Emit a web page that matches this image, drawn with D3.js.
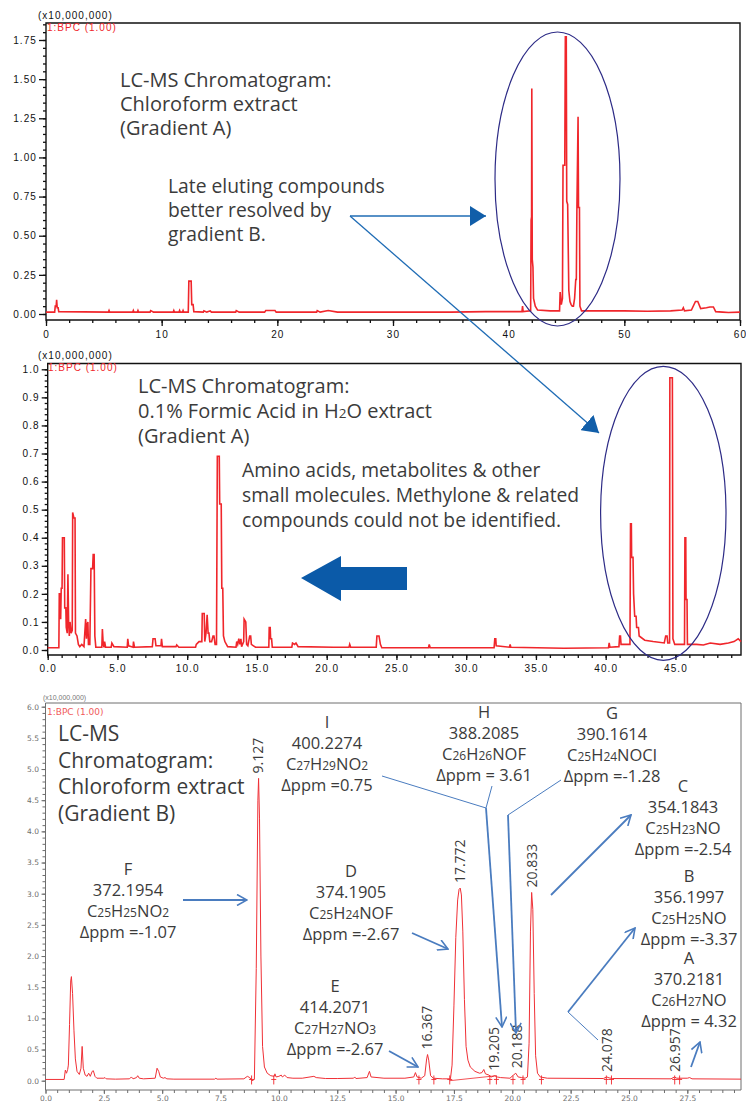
<!DOCTYPE html>
<html>
<head>
<meta charset="utf-8">
<script src="https://cdn.jsdelivr.net/npm/d3@7"></script>
<style>
  body { margin: 0; background: #fff; }
  svg text { font-family: "Open Sans", "Noto Sans", sans-serif; }
</style>
</head>
<body>
<svg id="chart" width="746" height="1102"></svg>
<script>
// Chloroform extract, gradient A: [time (min), intensity (x10,000,000)]
let traceChloroA = [
  [0, 0.012], [0.75, 0.012], [0.8, 0.05], [0.88, 0.05], [0.92, 0.09], [0.97, 0.04], [1.05, 0.04], [1.1, 0.015],
  [5.4, 0.012], [5.45, 0.022], [5.5, 0.012], [7.5, 0.012], [7.55, 0.022], [7.6, 0.012], [7.9, 0.012], [7.95, 0.022],
  [8.0, 0.012], [9.0, 0.012], [9.05, 0.022], [9.3, 0.012], [11.0, 0.012], [11.05, 0.022], [11.1, 0.012],
  [11.5, 0.012], [11.55, 0.022], [11.6, 0.012], [11.8, 0.012], [11.85, 0.022], [11.9, 0.012],
  [12.3, 0.012], [12.35, 0.21], [12.55, 0.21], [12.6, 0.06], [12.72, 0.06], [12.78, 0.015],
  [13.6, 0.012], [13.65, 0.02], [13.9, 0.012], [14.2, 0.02], [14.3, 0.012], [16.4, 0.012], [16.45, 0.022],
  [16.7, 0.012], [18.9, 0.012], [19.0, 0.022], [19.8, 0.022], [19.9, 0.012], [23.4, 0.012], [23.45, 0.022],
  [23.7, 0.012], [24.4, 0.022], [25.2, 0.012], [29, 0.012], [35, 0.012], [38, 0.015],
  [41.15, 0.015], [41.2, 0.05], [41.25, 0.015], [41.9, 0.02], [41.94, 0.6], [41.98, 0.62], [42.0, 1.44],
  [42.04, 0.35], [42.1, 0.3], [42.15, 0.1], [42.3, 0.05], [42.5, 0.025], [43.6, 0.02], [44.4, 0.02],
  [44.45, 0.14], [44.55, 0.06], [44.65, 0.1], [44.7, 0.95], [44.85, 0.95], [44.9, 1.77], [44.98, 1.77],
  [45.02, 0.72], [45.1, 0.7], [45.2, 0.15], [45.3, 0.08], [45.4, 0.06], [45.5, 0.05], [45.6, 0.05],
  [45.7, 0.1], [45.8, 0.22], [45.85, 0.22], [45.9, 0.68], [46.0, 1.26], [46.04, 0.68], [46.12, 0.68],
  [46.16, 0.05], [46.3, 0.02], [50, 0.02], [52, 0.018], [54, 0.02], [55, 0.025], [55.1, 0.04], [55.2, 0.02],
  [55.8, 0.025], [56.15, 0.08], [56.35, 0.08], [56.6, 0.035], [57.1, 0.04], [57.4, 0.045], [57.7, 0.045],
  [57.9, 0.015], [58.5, 0.012], [59, 0.01], [60, 0.012]
];

// 0.1% formic acid in water extract, gradient A
let traceFormicA = [
  [0, 0.008], [0.8, 0.008], [0.83, 0.2], [0.9, 0.2], [0.93, 0.11], [0.97, 0.22], [1.03, 0.22], [1.06, 0.4],
  [1.19, 0.4], [1.22, 0.15], [1.3, 0.15], [1.33, 0.08], [1.4, 0.06], [1.45, 0.27], [1.5, 0.1], [1.55, 0.05],
  [1.6, 0.1], [1.68, 0.06], [1.76, 0.07], [1.79, 0.49], [1.88, 0.47], [1.96, 0.47], [1.99, 0.06], [2.1, 0.05],
  [2.2, 0.02], [2.3, 0.012], [2.44, 0.02], [2.6, 0.012], [2.72, 0.11], [2.78, 0.04], [2.83, 0.09], [2.88, 0.1],
  [2.92, 0.02], [3.02, 0.02], [3.1, 0.29], [3.22, 0.29], [3.26, 0.34], [3.33, 0.34], [3.38, 0.05], [3.45, 0.01],
  [3.88, 0.01], [3.92, 0.075], [3.98, 0.02], [4.04, 0.01], [4.08, 0.03], [4.15, 0.01], [4.55, 0.01], [4.6, 0.025],
  [4.75, 0.012], [5.7, 0.01], [5.74, 0.04], [5.8, 0.015], [6.12, 0.01], [6.15, 0.03], [6.22, 0.01],
  [7.5, 0.012], [7.55, 0.04], [7.7, 0.04], [7.76, 0.015], [8.12, 0.015], [8.16, 0.04], [8.22, 0.012],
  [9.2, 0.012], [9.25, 0.018], [9.4, 0.01], [10.6, 0.01], [10.65, 0.02], [10.85, 0.03], [11.05, 0.03],
  [11.08, 0.13], [11.22, 0.13], [11.26, 0.03], [11.35, 0.06], [11.43, 0.125], [11.5, 0.06], [11.56, 0.06],
  [11.62, 0.03], [11.75, 0.03], [11.85, 0.05], [11.92, 0.05], [12.0, 0.02], [12.1, 0.02], [12.16, 0.69],
  [12.3, 0.69], [12.33, 0.52], [12.44, 0.52], [12.48, 0.22], [12.55, 0.22], [12.6, 0.05], [12.7, 0.03],
  [12.9, 0.012], [13.5, 0.01], [13.55, 0.03], [13.62, 0.02], [13.7, 0.04], [13.78, 0.02], [13.85, 0.04],
  [13.9, 0.012], [14.05, 0.03], [14.08, 0.11], [14.2, 0.1], [14.26, 0.02], [14.35, 0.015], [14.48, 0.05],
  [14.55, 0.05], [14.6, 0.02], [14.75, 0.015], [14.9, 0.01], [15.85, 0.01], [15.88, 0.08], [15.95, 0.08],
  [15.98, 0.04], [16.05, 0.04], [16.1, 0.01], [17.5, 0.01], [17.55, 0.025], [17.7, 0.02], [17.8, 0.025],
  [17.95, 0.012], [20.5, 0.01], [21.6, 0.01], [21.65, 0.02], [21.72, 0.01], [23.55, 0.01], [23.6, 0.05],
  [23.75, 0.05], [23.85, 0.02], [23.95, 0.008], [27.3, 0.008], [27.35, 0.02], [27.42, 0.008], [32.0, 0.008],
  [32.05, 0.04], [32.12, 0.04], [32.15, 0.015], [33.1, 0.01], [33.15, 0.02], [33.2, 0.01], [37, 0.006],
  [40.2, 0.008], [40.25, 0.025], [40.3, 0.01], [40.95, 0.012], [41.0, 0.05], [41.06, 0.05], [41.1, 0.02],
  [41.74, 0.02], [41.78, 0.45], [41.84, 0.45], [41.86, 0.33], [41.96, 0.33], [42.0, 0.2], [42.08, 0.12],
  [42.18, 0.12], [42.22, 0.08], [42.35, 0.08], [42.4, 0.05], [42.8, 0.035], [43.4, 0.03], [44.2, 0.025],
  [44.3, 0.05], [44.4, 0.05], [44.45, 0.025], [44.58, 0.025], [44.6, 0.97], [44.78, 0.97], [44.82, 0.04],
  [44.95, 0.02], [45.65, 0.02], [45.68, 0.4], [45.74, 0.4], [45.76, 0.18], [45.83, 0.18], [45.86, 0.02],
  [46.5, 0.02], [47, 0.018], [47.5, 0.025], [48.2, 0.02], [48.8, 0.025], [49.2, 0.03], [49.5, 0.04], [49.7, 0.03]
];

// Chloroform extract, gradient B
let traceChloroB = [
  [0, 0.02], [0.8, 0.02], [0.85, 0.17], [0.9, 0.12], [0.95, 0.18], [0.98, 0.25], [1.03, 0.9], [1.08, 1.6],
  [1.11, 1.67], [1.16, 1.4], [1.22, 0.8], [1.28, 0.35], [1.35, 0.15], [1.45, 0.1], [1.52, 0.2], [1.57, 0.55],
  [1.62, 0.2], [1.7, 0.09], [1.78, 0.07], [1.85, 0.12], [1.92, 0.07], [2.0, 0.15], [2.05, 0.16], [2.12, 0.07],
  [2.2, 0.04], [2.5, 0.04], [2.55, 0.05], [2.6, 0.03], [3.0, 0.025], [3.6, 0.03], [3.68, 0.06], [3.75, 0.03],
  [3.9, 0.05], [3.95, 0.08], [4.02, 0.04], [4.2, 0.03], [4.7, 0.04], [4.78, 0.2], [4.85, 0.15], [4.92, 0.06],
  [5.05, 0.04], [5.12, 0.05], [5.2, 0.03], [5.5, 0.025], [7.25, 0.025], [7.3, 0.04], [7.35, 0.025],
  [8.5, 0.03], [8.65, 0.07], [8.75, 0.05], [8.85, 0.0], [8.95, 0.02], [9.03, 1.8], [9.1, 4.5], [9.13, 4.85],
  [9.17, 4.2], [9.23, 2.0], [9.3, 0.55], [9.38, 0.22], [9.5, 0.12], [9.65, 0.08], [9.8, 0.07], [9.83, 0.11],
  [9.88, 0.06], [10.0, 0.07], [10.1, 0.09], [10.15, 0.06], [10.25, 0.09], [10.35, 0.05], [10.6, 0.04],
  [11.0, 0.04], [11.5, 0.07], [11.6, 0.05], [12.0, 0.035], [12.5, 0.035], [13.2, 0.04], [13.25, 0.06],
  [13.3, 0.035], [13.78, 0.05], [13.88, 0.15], [13.95, 0.06], [14.5, 0.04], [15.4, 0.04], [15.78, 0.06],
  [15.85, 0.13], [15.92, 0.06], [16.1, 0.04], [16.25, 0.08], [16.33, 0.35], [16.37, 0.42], [16.42, 0.33],
  [16.5, 0.08], [16.62, 0.04], [17.0, 0.03], [17.35, 0.03], [17.42, 0.25], [17.5, 1.2], [17.58, 2.3],
  [17.66, 2.9], [17.72, 3.07], [17.77, 3.09], [17.82, 2.98], [17.88, 2.4], [17.95, 1.3], [18.02, 0.55],
  [18.1, 0.33], [18.2, 0.22], [18.4, 0.15], [18.6, 0.12], [18.7, 0.13], [18.78, 0.18], [18.85, 0.11],
  [19.0, 0.09], [19.1, 0.06], [19.25, 0.08], [19.35, 0.06], [19.5, 0.05], [19.9, 0.04], [20.05, 0.09],
  [20.15, 0.12], [20.25, 0.06], [20.4, 0.05], [20.55, 0.04], [20.65, 0.06], [20.72, 0.6], [20.78, 2.4],
  [20.83, 3.02], [20.88, 2.75], [20.94, 1.4], [21.0, 0.4], [21.08, 0.12], [21.2, 0.06], [21.5, 0.04],
  [23.9, 0.035], [24.05, 0.06], [24.15, 0.045], [24.3, 0.035], [26.8, 0.03], [26.95, 0.06], [27.05, 0.04],
  [27.5, 0.04], [27.6, 0.05], [27.7, 0.03], [29.8, 0.025]
];

// tick labels
let xTicksChloroA = [0, 10, 20, 30, 40, 50, 60];
let yTicksChloroA = [0, 0.25, 0.5, 0.75, 1.0, 1.25, 1.5, 1.75];
let xTicksFormicA = [0, 5, 10, 15, 20, 25, 30, 35, 40, 45];
let yTicksFormicA = [0, 0.1, 0.2, 0.3, 0.4, 0.5, 0.6, 0.7, 0.8, 0.9, 1.0];
let xTicksChloroB = [0, 2.5, 5, 7.5, 10, 12.5, 15, 17.5, 20, 22.5, 25, 27.5];
let yTicksChloroB = [0, 0.5, 1, 1.5, 2, 2.5, 3, 3.5, 4, 4.5, 5, 5.5, 6];

// labelled peaks (retention time, min) and integration marks in gradient B
let peakTimes = [9.127, 16.367, 17.772, 19.205, 20.188, 20.833, 24.078, 26.957];
let integrationMarks = [8.83, 9.78, 16.0, 16.64, 17.32, 19.04, 19.32, 20.03, 20.46, 21.25, 24.03, 24.25, 26.96, 27.17];

// identified compounds
let compoundIds = ['A', 'B', 'C', 'D', 'E', 'F', 'G', 'H', 'I'];
let compoundMz = ['370.2181', '356.1997', '354.1843', '374.1905', '414.2071', '372.1954', '390.1614', '388.2085', '400.2274'];
let compoundFormula = ['C26H27NO', 'C25H25NO', 'C25H23NO', 'C25H24NOF', 'C27H27NO3', 'C25H25NO2', 'C25H24NOCl', 'C26H26NOF', 'C27H29NO2'];
let compoundPpm = ['Δppm = 4.32', 'Δppm =-3.37', 'Δppm =-2.54', 'Δppm =-2.67', 'Δppm =-2.67', 'Δppm =-1.07', 'Δppm =-1.28', 'Δppm = 3.61', 'Δppm =0.75'];

let TEXT = '#3b3b3b';
let RED = '#f0262b';
let BLUE = '#4a7cbf';

let svg = d3.select('#chart');
let defs = svg.append('defs');

// open chevron head for the blue call-out arrows
defs.append('marker')
  .attr('id', 'chev')
  .attr('viewBox', '0 0 12 12')
  .attr('refX', 11).attr('refY', 6)
  .attr('markerWidth', 12).attr('markerHeight', 12)
  .attr('markerUnits', 'userSpaceOnUse')
  .attr('orient', 'auto')
  .append('path')
  .attr('d', 'M1,0.5L11,6L1,11.5')
  .attr('fill', 'none').attr('stroke', BLUE).attr('stroke-width', 1.6);

// filled triangle head
defs.append('marker')
  .attr('id', 'tri')
  .attr('viewBox', '0 0 16 20')
  .attr('refX', 16).attr('refY', 10)
  .attr('markerWidth', 16).attr('markerHeight', 20)
  .attr('markerUnits', 'userSpaceOnUse')
  .attr('orient', 'auto')
  .append('path')
  .attr('d', 'M0,0L16,10L0,20Z')
  .attr('fill', '#115ea9');

function drawAxes (g, p) {
  let left = p.x.range()[0];
  let right = p.x.range()[1];

  // frame: left axis, top, right, bottom axis
  g.append('path')
    .attr('d', 'M' + left + ',' + p.bottom + 'V' + p.top + 'H' + right + 'V' + p.bottom + 'Z')
    .attr('fill', 'none')
    .attr('stroke', p.color)
    .attr('stroke-width', p.frameWidth);

  let styleAxis = sel => {
    sel.select('.domain').remove();
    sel.selectAll('.tick line').attr('stroke', p.color).attr('stroke-width', p.tickWidth);
    sel.selectAll('.tick text')
      .attr('fill', p.labelColor)
      .style('font-family', p.font)
      .style('font-size', p.fontSize + 'px')
      .style('letter-spacing', p.spacing + 'px');
  };

  g.append('g').attr('transform', 'translate(0,' + p.bottom + ')')
    .call(d3.axisBottom(p.x).tickValues(p.xMinor).tickSize(p.minorLen).tickFormat(''))
    .call(styleAxis);
  g.append('g').attr('transform', 'translate(0,' + p.bottom + ')')
    .call(d3.axisBottom(p.x).tickValues(p.xTicks).tickSize(p.xTickLen).tickPadding(p.xPad).tickFormat(p.xFmt))
    .call(styleAxis);
  g.append('g').attr('transform', 'translate(' + left + ',0)')
    .call(d3.axisLeft(p.y).tickValues(p.yMinor).tickSize(p.minorLen).tickFormat(''))
    .call(styleAxis);
  g.append('g').attr('transform', 'translate(' + left + ',0)')
    .call(d3.axisLeft(p.y).tickValues(p.yTicks).tickSize(p.yTickLen).tickPadding(p.yPad).tickFormat(p.yFmt))
    .call(styleAxis);
}

function drawTrace (g, data, x, y, color, width) {
  let line = d3.line().x(d => x(d[0])).y(d => y(d[1]));
  g.append('path')
    .datum(data)
    .attr('d', line)
    .attr('fill', 'none')
    .attr('stroke', color)
    .attr('stroke-width', width)
    .attr('stroke-linejoin', 'miter');
}

function textBlock (g, lines, x, y0, step, size, anchor) {
  let t = g.append('text')
    .attr('x', x).attr('y', y0)
    .attr('fill', TEXT)
    .style('font-size', size + 'px')
    .attr('text-anchor', anchor || 'start');
  lines.forEach((l, i) => {
    let ts = t.append('tspan').attr('x', x).attr('dy', i === 0 ? 0 : step);
    if (typeof l === 'function') l(ts); else ts.text(l);
  });
  return t;
}

// write a chemical formula with small digits
function formula (str, size) {
  return sel => {
    str.split(/(\d+)/).filter(s => s.length).forEach(part => {
      let isNum = /^\d+$/.test(part);
      sel.append('tspan').text(part).style('font-size', isNum ? size + 'px' : null);
    });
  };
}

function scaleHeader (g, x, y, size, spacing, color) {
  g.append('text').attr('x', x).attr('y', y)
    .text('(x10,000,000)')
    .attr('fill', color)
    .style('font-family', '"Liberation Sans", Arial, sans-serif')
    .style('font-size', size + 'px')
    .style('letter-spacing', spacing + 'px');
}

// ---------------- Panel 1: chloroform extract, gradient A ----------------
let p1 = svg.append('g');
let x1 = d3.scaleLinear().domain([0, 60]).range([46, 740]);
let y1 = d3.scaleLinear().domain([0, 1.75]).range([314, 40]);

drawAxes(p1, {
  x: x1, y: y1, top: 23, bottom: 320,
  xTicks: xTicksChloroA, yTicks: yTicksChloroA,
  xMinor: d3.range(0, 60.01, 2), yMinor: d3.range(0, 1.86, 0.05),
  xFmt: d3.format('d'), yFmt: d3.format('.2f'),
  color: '#111', labelColor: '#111', frameWidth: 1.4, tickWidth: 1.3,
  font: '"Liberation Sans", Arial, sans-serif', fontSize: 10, spacing: 1.1,
  minorLen: 3, xTickLen: 6, yTickLen: 7, xPad: 5, yPad: 2
});
scaleHeader(p1, 38, 19, 10, 1, '#111');
p1.append('text').attr('x', 47).attr('y', 31).text('1:BPC (1.00)')
  .attr('fill', RED)
  .style('font-family', '"Liberation Sans", Arial, sans-serif')
  .style('font-size', '10px').style('letter-spacing', '1px');

drawTrace(p1, traceChloroA, x1, y1, RED, 1.6);

textBlock(p1, ['LC-MS Chromatogram:', 'Chloroform extract', '(Gradient A)'], 120, 87, 24, 20);
textBlock(p1, ['Late eluting compounds', 'better resolved by', 'gradient B.'], 168, 193, 24, 19.3);

p1.append('ellipse')
  .attr('cx', 557.5).attr('cy', 179).attr('rx', 62.5).attr('ry', 147)
  .attr('fill', 'none').attr('stroke', '#2d2b86').attr('stroke-width', 1.2);

// connectors from the remark to both ellipses
p1.append('line').attr('x1', 350).attr('y1', 216).attr('x2', 486).attr('y2', 216)
  .attr('stroke', '#1f6cb5').attr('stroke-width', 1.3).attr('marker-end', 'url(#tri)');
p1.append('line').attr('x1', 350).attr('y1', 216).attr('x2', 599).attr('y2', 433)
  .attr('stroke', '#1f6cb5').attr('stroke-width', 1.3).attr('marker-end', 'url(#tri)');

// ---------------- Panel 2: formic acid extract, gradient A ----------------
let p2 = svg.append('g');
let x2 = d3.scaleLinear().domain([0, 49.7]).range([47.7, 741]);
let y2 = d3.scaleLinear().domain([0, 1.0]).range([650, 369.3]);

drawAxes(p2, {
  x: x2, y: y2, top: 363.5, bottom: 655,
  xTicks: xTicksFormicA, yTicks: yTicksFormicA,
  xMinor: d3.range(0, 49.7, 1), yMinor: d3.range(0, 1.01, 0.02),
  xFmt: d3.format('.1f'), yFmt: d3.format('.1f'),
  color: '#111', labelColor: '#111', frameWidth: 1.4, tickWidth: 1.3,
  font: '"Liberation Sans", Arial, sans-serif', fontSize: 10, spacing: 1.1,
  minorLen: 3, xTickLen: 5, yTickLen: 6, xPad: 5, yPad: 2
});
scaleHeader(p2, 38, 359, 10, 1, '#111');
p2.append('text').attr('x', 48).attr('y', 371).text('1:BPC (1.00)')
  .attr('fill', RED)
  .style('font-family', '"Liberation Sans", Arial, sans-serif')
  .style('font-size', '10px').style('letter-spacing', '1px');

drawTrace(p2, traceFormicA, x2, y2, RED, 1.6);

textBlock(p2, [
  'LC-MS Chromatogram:',
  ts => {
    ts.append('tspan').text('0.1% Formic Acid in H');
    ts.append('tspan').text('2').style('font-size', '13.5px');
    ts.append('tspan').text('O extract');
  },
  '(Gradient A)'
], 138, 393, 25, 20);
textBlock(p2, [
  'Amino acids, metabolites & other',
  'small molecules. Methylone & related',
  'compounds could not be identified.'
], 242, 477, 25, 19.3);

p2.append('ellipse')
  .attr('cx', 663.3).attr('cy', 513.3).attr('rx', 62.7).attr('ry', 147)
  .attr('fill', 'none').attr('stroke', '#2d2b86').attr('stroke-width', 1.2);

// big left-pointing arrow
p2.append('path')
  .attr('d', 'M301,578L341,556V567H407V590H341V601Z')
  .attr('fill', '#0b5aa8');

// ---------------- Panel 3: chloroform extract, gradient B ----------------
let p3 = svg.append('g');
let x3 = d3.scaleLinear().domain([0, 29.8]).range([45.5, 741]);
let y3 = d3.scaleLinear().domain([0, 6]).range([1080.7, 706.7]);

drawAxes(p3, {
  x: x3, y: y3, top: 703, bottom: 1090,
  xTicks: xTicksChloroB, yTicks: yTicksChloroB,
  xMinor: d3.range(0, 29.8, 0.5), yMinor: d3.range(0, 6.01, 0.1),
  xFmt: d3.format('.1f'), yFmt: d3.format('.1f'),
  color: '#6e6e6e', labelColor: '#6e6e6e', frameWidth: 1, tickWidth: 1,
  font: '"DejaVu Sans", sans-serif', fontSize: 7.5, spacing: 0,
  minorLen: 3, xTickLen: 4, yTickLen: 4, xPad: 2, yPad: 2.5
});
scaleHeader(p3, 43, 700, 7, 0, '#777');
p3.append('text').attr('x', 47).attr('y', 715).text('1:BPC (1.00)')
  .attr('fill', '#f05a5a')
  .style('font-family', '"DejaVu Sans", sans-serif')
  .style('font-size', '9px');

// integration baseline and marks
p3.append('line')
  .attr('x1', x3(17.32)).attr('y1', y3(0.0))
  .attr('x2', x3(19.32)).attr('y2', y3(0.08))
  .attr('stroke', RED).attr('stroke-width', 0.8);
let marks = p3.append('g').attr('stroke', RED).attr('stroke-width', 0.9);
integrationMarks.forEach(t => {
  let cx = x3(t);
  let cy = y3(0.02);
  marks.append('line').attr('x1', cx).attr('x2', cx).attr('y1', cy - 4).attr('y2', cy + 5);
  marks.append('line').attr('x1', cx - 2.5).attr('x2', cx + 2.5).attr('y1', cy).attr('y2', cy);
});

drawTrace(p3, traceChloroB, x3, y3, '#f03036', 1);

// retention-time labels above peaks
peakTimes.forEach(t => {
  let near = traceChloroB.filter(d => Math.abs(d[0] - t) < 0.06);
  let h = d3.max(near, d => d[1]);
  let px = x3(t);
  let py = Math.min(y3(h) - 5, 1074);
  p3.append('text')
    .attr('transform', 'translate(' + px + ',' + py + ') rotate(-90)')
    .attr('dy', '0.35em')
    .attr('fill', TEXT)
    .style('font-size', '14px')
    .text(d3.format('.3f')(t));
});

textBlock(p3, ['LC-MS', 'Chromatogram:', 'Chloroform extract', '(Gradient B)'], 58, 741, 26.7, 21);

// compound call-outs
let labelPos = {
  A: [689, 964], B: [689, 882], C: [683, 792], D: [351, 877], E: [335, 992],
  F: [128, 875], G: [612, 719], H: [484, 718], I: [327, 728]
};
compoundIds.forEach((id, i) => {
  let pos = labelPos[id];
  textBlock(p3, [id, compoundMz[i], formula(compoundFormula[i], 12), compoundPpm[i]],
    pos[0], pos[1], 21, 16.5, 'middle');
});

// thin leader lines and arrows
let leaders = [
  [[382, 776], [486, 808]],
  [[492, 786], [486, 808]],
  [[561, 780], [508, 815]],
  [[598, 1040], [568, 1012]]
];
let arrows = [
  [[183, 900], [247, 900]],
  [[412, 933], [448, 949]],
  [[389, 1051], [418, 1067]],
  [[486, 808], [502, 1027]],
  [[508, 815], [516, 1033]],
  [[551, 895], [631, 815]],
  [[568, 1012], [635, 928]],
  [[691, 1067], [700, 1042]]
];
leaders.forEach(l => {
  p3.append('path').attr('d', d3.line()(l))
    .attr('fill', 'none').attr('stroke', BLUE).attr('stroke-width', 1);
});
arrows.forEach(a => {
  p3.append('path').attr('d', d3.line()(a))
    .attr('fill', 'none').attr('stroke', BLUE).attr('stroke-width', 1.8)
    .attr('marker-end', 'url(#chev)');
});
</script>
</body>
</html>
